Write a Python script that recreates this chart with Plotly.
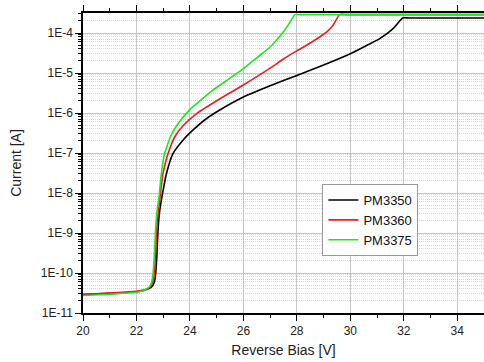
import plotly.graph_objects as go

# Reverse-bias I-V sweeps for three SiPM samples (current in A)
bias_3350 = [20, 21, 22, 22.3, 22.5, 22.6, 22.68, 22.72, 22.76, 22.8, 22.85, 22.93, 23.02,
             23.12, 23.36, 23.74, 24.11, 24.6, 25.1, 26, 27, 28, 29, 30, 30.5, 31.1, 31.6,
             31.96, 32.2, 35]
curr_3350 = [2.88e-11, 3.09e-11, 3.39e-11, 3.72e-11, 4.17e-11, 4.79e-11, 6.31e-11, 1.0e-10,
             2.51e-10, 1.0e-9, 2.82e-9, 6.61e-9, 1.41e-8, 3.02e-8, 9.55e-8, 2.09e-7, 3.72e-7,
             7.08e-7, 1.17e-6, 2.51e-6, 4.79e-6, 8.71e-6, 1.58e-5, 3.02e-5, 4.47e-5, 7.24e-5,
             1.29e-4, 2.37e-4, 2.37e-4, 2.37e-4]

bias_3360 = [20, 21, 22, 22.3, 22.5, 22.56, 22.64, 22.68, 22.72, 22.76, 22.81, 22.87, 22.99,
             23.18, 23.43, 23.74, 24.24, 25.11, 26, 27, 27.5, 28.04, 28.5, 28.85, 29.15, 29.35,
             29.6, 29.85, 35]
curr_3360 = [2.95e-11, 3.16e-11, 3.47e-11, 3.80e-11, 4.37e-11, 5.01e-11, 7.08e-11, 1.26e-10,
             3.55e-10, 1.26e-9, 3.16e-9, 6.61e-9, 3.02e-8, 9.55e-8, 2.51e-7, 4.79e-7, 9.55e-7,
             2.24e-6, 5.01e-6, 1.32e-5, 2.24e-5, 3.72e-5, 5.62e-5, 7.94e-5, 1.12e-4, 1.55e-4,
             2.88e-4, 2.88e-4, 2.88e-4]

bias_3375 = [20, 21, 22, 22.3, 22.5, 22.56, 22.6, 22.64, 22.68, 22.72, 22.77, 22.83, 22.93,
             23.05, 23.3, 23.61, 23.99, 24.86, 25.5, 26.04, 26.5, 27.0, 27.3, 27.54, 27.79,
             27.93, 28.2, 35]
curr_3375 = [2.75e-11, 2.95e-11, 3.31e-11, 3.72e-11, 4.68e-11, 5.62e-11, 7.59e-11, 1.41e-10,
             3.98e-10, 1.41e-9, 3.55e-9, 6.61e-9, 3.02e-8, 9.55e-8, 2.82e-7, 6.03e-7, 1.20e-6,
             3.72e-6, 7.41e-6, 1.35e-5, 2.40e-5, 4.47e-5, 7.41e-5, 1.17e-4, 2.09e-4, 2.88e-4,
             2.88e-4, 2.88e-4]

series_names = ["PM3350", "PM3360", "PM3375"]
series_colors = ["#000000", "#f01c1c", "#1fe61f"]

decades = list(range(-11, -3))
y_tickvals = [10.0 ** d for d in decades]
y_ticktext = [f"1E{d}" for d in decades]
y_minorvals = [m * 10.0 ** d for d in range(-11, -3) for m in range(2, 10)]

fig = go.Figure()
for name, color, xs, ys in zip(series_names, series_colors,
                               [bias_3350, bias_3360, bias_3375],
                               [curr_3350, curr_3360, curr_3375]):
    fig.add_trace(go.Scatter(x=xs, y=ys, name=name, mode="lines",
                             line=dict(color=color, width=1.6, shape="spline", smoothing=0.5)))

font_family = "Liberation Sans, Arial, sans-serif"

fig.update_layout(
    width=484, height=362,
    margin=dict(l=83, r=0, t=13, b=49),
    paper_bgcolor="white", plot_bgcolor="white",
    font=dict(family=font_family, color="#222222", size=12),
    showlegend=True,
    legend=dict(x=0.597, y=0.43, xanchor="left", yanchor="top",
                bgcolor="white", bordercolor="#999999", borderwidth=1,
                font=dict(size=13, color="#111111"),
                itemwidth=30, tracegroupgap=0),
)

fig.update_xaxes(
    range=[20, 35], dtick=2, tick0=20,
    showline=True, linecolor="black", linewidth=1.5, mirror="ticks",
    ticks="outside", ticklen=6, tickwidth=1, tickcolor="black",
    showgrid=True, gridcolor="#c6c6c6", gridwidth=1, zeroline=False,
    minor=dict(dtick=1, tick0=20, ticks="outside", ticklen=3, tickcolor="black", showgrid=False),
    title=dict(text="Reverse Bias [V]", font=dict(size=14, color="#222222"), standoff=8),
    tickfont=dict(size=12, color="#222222"),
)

fig.update_yaxes(
    type="log", range=[-11, -3.5],
    tickmode="array", tickvals=y_tickvals, ticktext=y_ticktext,
    showline=True, linecolor="black", linewidth=1.5,
    ticks="outside", ticklen=6, tickwidth=1, tickcolor="black",
    showgrid=True, gridcolor="#c6c6c6", gridwidth=1, zeroline=False,
    minor=dict(tickmode="array", tickvals=y_minorvals, ticks="outside", ticklen=3,
               tickcolor="black", showgrid=True, gridcolor="#d6d6d6",
               griddash="1px,1px", gridwidth=1),
    title=dict(text="Current [A]", font=dict(size=14, color="#222222"), standoff=16),
    tickfont=dict(size=12, color="#222222"),
)

fig.write_html("out.html")
